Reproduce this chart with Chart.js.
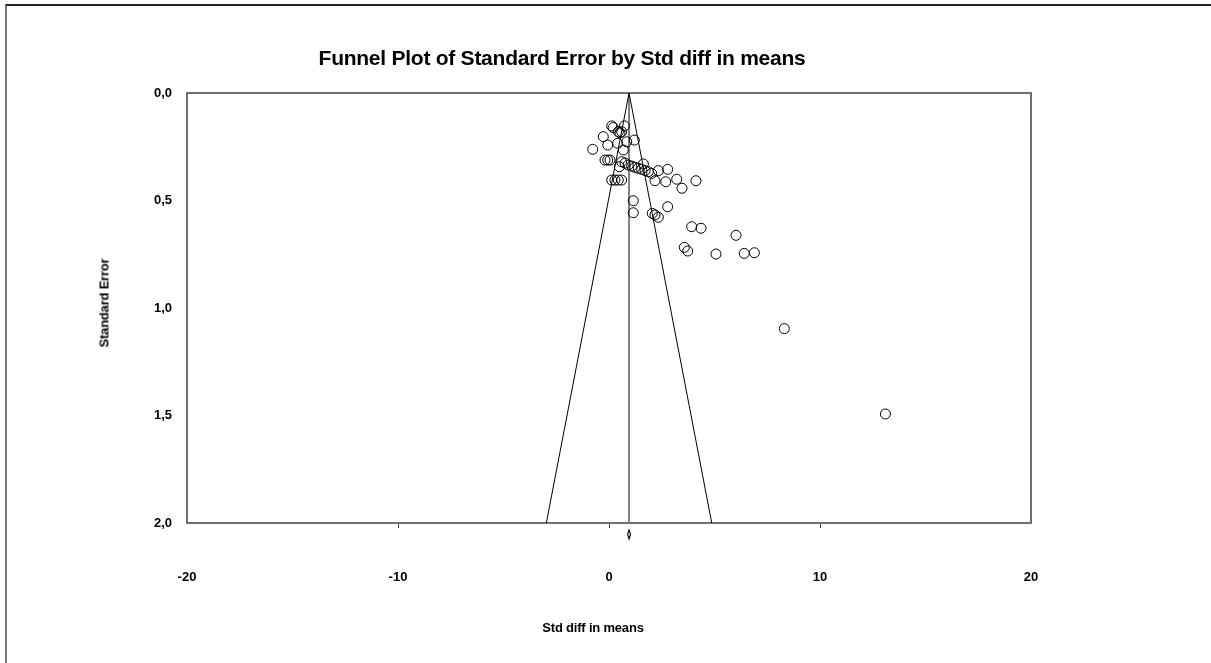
<!DOCTYPE html>
<html><head><meta charset="utf-8">
<script src="https://cdn.jsdelivr.net/npm/chart.js@4/dist/chart.umd.min.js"></script>
<style>
html,body{margin:0;padding:0;background:#fff;overflow:hidden;}
#wrap{position:relative;width:1211px;height:663px;overflow:hidden;}
#frame{position:absolute;left:5px;top:4px;width:1300px;height:800px;border-top:2px solid #222;border-left:2px solid #777;box-sizing:border-box;}
canvas{position:absolute;left:0;top:0;}
.t{position:absolute;font-family:"Liberation Sans",Arial,sans-serif;font-weight:bold;color:#000;white-space:nowrap;line-height:1;}
#title{left:562px;top:57px;transform:translate(-50%,-50%);font-size:21px;letter-spacing:-0.25px;}
#xtitle{left:593px;top:627px;transform:translate(-50%,-50%);font-size:13px;letter-spacing:-0.2px;}
#ytitle{left:104px;top:303px;transform:translate(-50%,-50%) rotate(-90deg);font-size:13px;letter-spacing:-0.2px;}
</style>
</head><body>
<div id="wrap">
<div id="frame"></div>
<canvas id="c" width="1211" height="663"></canvas>
<div class="t" id="title">Funnel Plot of Standard Error by Std diff in means</div>
<div class="t" id="xtitle">Std diff in means</div>
<div class="t" id="ytitle">Standard Error</div>
</div>
<script>
// Study effects (Std diff in means) and standard errors
const stdDiff = [0.13,0.20,0.73,0.44,0.52,0.60,-0.27,1.20,0.84,0.41,-0.06,-0.77,0.68,
  -0.19,-0.06,0.05,0.60,0.76,0.91,1.08,1.23,1.39,1.55,1.71,1.86,2.02,1.63,2.34,2.78,0.49,
  0.13,0.28,0.44,0.60,2.18,2.69,3.21,3.46,4.12,
  1.15,1.15,2.05,2.18,2.34,2.78,3.92,4.36,6.02,3.57,3.73,5.07,6.41,6.89,8.31,13.10];
const stdError = [0.153,0.161,0.153,0.180,0.185,0.180,0.203,0.219,0.227,0.234,0.242,0.262,0.265,
  0.312,0.312,0.312,0.320,0.326,0.335,0.340,0.346,0.350,0.355,0.361,0.366,0.374,0.330,0.361,0.355,0.343,
  0.405,0.405,0.405,0.405,0.408,0.413,0.401,0.443,0.408,
  0.501,0.557,0.560,0.567,0.578,0.529,0.622,0.629,0.662,0.718,0.735,0.749,0.746,0.743,1.096,1.493];
// Summary effect and funnel (95% limits)
const meanLineX = [0.95, 0.95];
const meanLineY = [0, 2];
const funnelX = [-2.97, 0.95, 4.87];
const funnelY = [2, 0, 2];
const diamondX = [0.88, 0.95, 1.02, 0.95, 0.88];
const diamondY = [2.053, 2.033, 2.053, 2.074, 2.053];
// Axis ticks
const xTicks = [-20, -10, 0, 10, 20];
const yTicks = [0, 0.5, 1, 1.5, 2];
const yTickLabels = ['0,0', '0,5', '1,0', '1,5', '2,0'];

const pts = (xs, ys) => xs.map((x, i) => ({x: x, y: ys[i]}));

const framePlugin = {
  id: 'frame',
  beforeDatasetsDraw(chart) {
    const a = chart.chartArea, ctx = chart.ctx;
    ctx.save();
    ctx.strokeStyle = '#707070';
    ctx.lineWidth = 2;
    ctx.strokeRect(a.left, a.top, a.right - a.left, a.bottom - a.top);
    ctx.restore();
  }
};

const tickFont = {family: '"Liberation Sans", Arial, sans-serif', weight: 'bold', size: 13};

new Chart(document.getElementById('c'), {
  type: 'scatter',
  data: {
    datasets: [
      {data: pts(meanLineX, meanLineY), showLine: true, borderColor: '#808080', borderWidth: 2, pointRadius: 0, order: 3},
      {data: pts(funnelX, funnelY), showLine: true, borderColor: '#000', borderWidth: 1, pointRadius: 0, order: 2},
      {data: pts(diamondX, diamondY), showLine: true, borderColor: '#000', borderWidth: 1.2, pointRadius: 0, clip: false, order: 1},
      {data: pts(stdDiff, stdError), showLine: false, pointRadius: 5, pointBorderWidth: 1, pointBorderColor: '#000',
       pointBackgroundColor: 'rgba(0,0,0,0)', borderColor: '#000', backgroundColor: 'rgba(0,0,0,0)', order: 0}
    ]
  },
  options: {
    responsive: false,
    animation: false,
    events: [],
    layout: {padding: {top: 93, left: 0, right: 180, bottom: 0}},
    plugins: {legend: {display: false}, tooltip: {enabled: false}, title: {display: false}},
    scales: {
      x: {
        type: 'linear', min: -20, max: 20,
        afterBuildTicks: s => { s.ticks = xTicks.map(v => ({value: v})); },
        afterFit: s => { s.height = 140; },
        grid: {display: true, drawOnChartArea: false, drawTicks: true, tickLength: 5, lineWidth: 1,
               color: c => (c.tick && (c.tick.value === -20 || c.tick.value === 20)) ? 'rgba(0,0,0,0)' : '#444'},
        border: {display: false},
        ticks: {color: '#000', font: tickFont, padding: 42, maxRotation: 0, callback: v => String(v)}
      },
      y: {
        type: 'linear', min: 0, max: 2, reverse: true,
        afterBuildTicks: s => { s.ticks = yTicks.map(v => ({value: v})); },
        afterFit: s => { s.width = 187; },
        grid: {display: false, drawTicks: false},
        border: {display: false},
        ticks: {color: '#000', font: tickFont, padding: 15,
                callback: v => { const i = yTicks.indexOf(v); return i >= 0 ? yTickLabels[i] : ''; }}
      }
    }
  },
  plugins: [framePlugin]
});
</script>
</body></html>
